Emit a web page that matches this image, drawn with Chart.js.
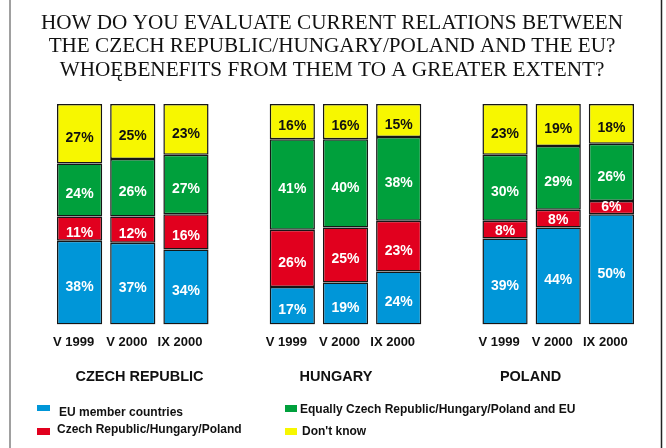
<!DOCTYPE html>
<html>
<head>
<meta charset="utf-8">
<script src="https://cdn.jsdelivr.net/npm/chart.js@4/dist/chart.umd.min.js"></script>
<style>
  html, body { margin: 0; padding: 0; background: #fff; }
  #wrap { width: 666px; height: 448px; position: relative; }
</style>
</head>
<body>
<div id="wrap"><canvas id="surveyChart" width="666" height="448"></canvas></div>
<script>
// --- data ---
const categories = ["V 1999", "V 2000", "IX 2000", "", "V 1999", "V 2000", "IX 2000", "", "V 1999", "V 2000", "IX 2000"];
const groupNames = ["CZECH REPUBLIC", "HUNGARY", "POLAND"];
const seriesNames = ["EU member countries", "Czech Republic/Hungary/Poland", "Equally Czech Republic/Hungary/Poland and EU", "Don't know"];
const euMembers = [38, 37, 34, null, 17, 19, 24, null, 39, 44, 50];
const ownCountry = [11, 12, 16, null, 26, 25, 23, null, 8, 8, 6];
const equally = [24, 26, 27, null, 41, 40, 38, null, 30, 29, 26];
const dontKnow = [27, 25, 23, null, 16, 16, 15, null, 23, 19, 18];
const titleLines = [
    "HOW DO YOU EVALUATE CURRENT RELATIONS BETWEEN",
    "THE CZECH REPUBLIC/HUNGARY/POLAND AND THE EU?",
    "WHO\u0118BENEFITS FROM THEM TO A GREATER EXTENT?"
];

const COLORS = ["#0096d8", "#e1001e", "#00a03c", "#f7f700"];
const LABEL_COLORS = ["#fff", "#fff", "#fff", "#111"];
const SANS = "Arial, 'Liberation Sans', sans-serif";

/* ---------- value labels inside the segments ---------- */
const segmentLabels = {
    id: "segmentLabels",
    afterDatasetsDraw(chart) {
        const ctx = chart.ctx;
        ctx.save();
        ctx.font = "bold 14px " + SANS;
        ctx.textAlign = "center";
        ctx.textBaseline = "middle";
        chart.data.datasets.forEach((ds, i) => {
            chart.getDatasetMeta(i).data.forEach((bar, j) => {
                const v = ds.data[j];
                if (v == null) return;
                const h = Math.abs(bar.base - bar.y);
                const shift = Math.max(0, Math.min(4.5, (h - 14) / 2));
                ctx.fillStyle = LABEL_COLORS[i];
                ctx.fillText(v + "%", bar.x, (bar.y + bar.base) / 2 + shift);
            });
        });
        ctx.restore();
    }
};

/* ---------- title, group names, legend, frame ---------- */
const decorations = {
    id: "decorations",
    afterDraw(chart) {
        const ctx = chart.ctx;
        ctx.save();

        // frame lines
        ctx.lineWidth = 1.5;
        ctx.strokeStyle = "#808080";
        ctx.beginPath(); ctx.moveTo(10, 0); ctx.lineTo(10, 448); ctx.stroke();
        ctx.strokeStyle = "#222";
        ctx.beginPath(); ctx.moveTo(661.5, 0); ctx.lineTo(661.5, 448); ctx.stroke();

        // title
        ctx.fillStyle = "#111";
        ctx.textAlign = "center";
        ctx.textBaseline = "middle";
        ctx.font = "21.2px 'Liberation Serif', 'Times New Roman', serif";
        titleLines.forEach((line, i) => ctx.fillText(line, 332, 23 + i * 23.6));

        // group names
        ctx.font = "bold 14.5px " + SANS;
        const groupX = [139.5, 336, 530.5];
        groupNames.forEach((g, i) => ctx.fillText(g, groupX[i], 377));

        // legend
        ctx.font = "bold 12px " + SANS;
        ctx.textAlign = "left";
        const legendItems = [
            { box: [37, 405, 13, 6], text: [59, 413] },
            { box: [37, 428, 13, 7], text: [57, 430] },
            { box: [285, 405, 12, 7], text: [300, 409.5] },
            { box: [285, 428, 12, 7], text: [302, 431.5] }
        ];
        legendItems.forEach((it, i) => {
            ctx.fillStyle = COLORS[i];
            ctx.fillRect(it.box[0], it.box[1], it.box[2], it.box[3]);
            ctx.fillStyle = "#111";
            ctx.fillText(seriesNames[i], it.text[0], it.text[1]);
        });
        ctx.restore();
    }
};

const datasets = [euMembers, ownCountry, equally, dontKnow].map((values, i) => ({
    label: seriesNames[i],
    data: values,
    backgroundColor: COLORS[i],
    borderColor: "#161616",
    borderWidth: 1.5,
    borderSkipped: false
}));

new Chart(document.getElementById("surveyChart"), {
    type: "bar",
    data: { labels: categories, datasets },
    options: {
        responsive: false,
        animation: false,
        events: [],
        layout: { padding: { top: 104, left: 53, right: 28, bottom: 88 } },
        datasets: { bar: { categoryPercentage: 1, barPercentage: 0.85 } },
        plugins: {
            legend: { display: false },
            title: { display: false },
            tooltip: { enabled: false }
        },
        scales: {
            x: {
                stacked: true,
                grid: { display: false, drawTicks: false },
                border: { display: false },
                ticks: {
                    color: "#111",
                    font: { family: SANS, size: 13, weight: "bold" },
                    padding: 10,
                    labelOffset: -6,
                    maxRotation: 0,
                    autoSkip: false
                }
            },
            y: {
                stacked: true,
                display: false,
                min: 0,
                max: 100
            }
        }
    },
    plugins: [segmentLabels, decorations]
});
</script>
</body>
</html>
